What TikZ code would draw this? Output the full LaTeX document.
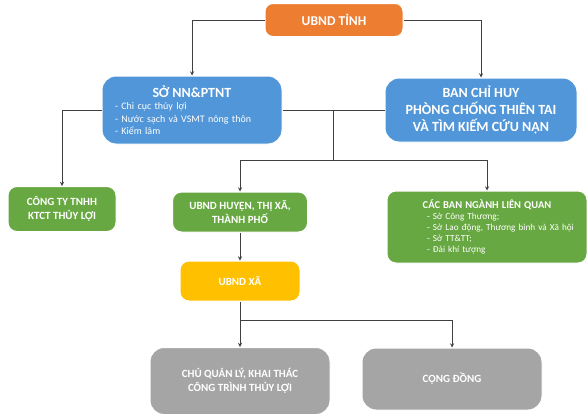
\documentclass[tikz,border=0pt]{standalone}
\usepackage{fontspec}
\setmainfont{Carlito}
\usepackage{tikz}
\definecolor{tinhorange}{HTML}{ED7D31}
\definecolor{soblue}{HTML}{5196D8}
\definecolor{cgreen}{HTML}{68A842}
\definecolor{xayellow}{HTML}{FFC000}
\definecolor{cdgray}{HTML}{A5A5A5}
\definecolor{linegray}{HTML}{404040}

\begin{document}
\begin{tikzpicture}[x=1pt,y=-1pt,>=stealth,
  box/.style={rectangle,rounded corners=9pt,draw=white,line width=1pt,text=white,font=\bfseries\fontsize{11}{14}\selectfont,align=center,inner sep=2pt},
  link/.style={draw=linegray,line width=0.9pt}]
\useasboundingbox (0,0) rectangle (587,418);
\node[box,fill=tinhorange,minimum width=138pt,minimum height=33pt,rounded corners=8pt,font=\bfseries\fontsize{13.5}{15}\selectfont] (tinh) at (334,20) {UBND TỈNH};
\node[box,fill=soblue,minimum width=180pt,minimum height=68pt,rounded corners=14pt,text width=154pt,align=left,font=\fontsize{10}{12.5}\selectfont] (so) at (192,110) {\makebox[\linewidth]{\bfseries\fontsize{14}{16}\selectfont SỞ NN\&PTNT}\\- Chi cục thủy lợi\\- Nước sạch và VSMT nông thôn\\- Kiểm lâm};
\node[box,fill=soblue,minimum width=192pt,minimum height=64pt,rounded corners=14pt,font=\bfseries\fontsize{14}{17}\selectfont] (ban) at (481,110) {BAN CHỈ HUY\\PHÒNG CHỐNG THIÊN TAI\\VÀ TÌM KIẾM CỨU NẠN};
\node[box,fill=cgreen,minimum width=108pt,minimum height=45pt] (congty) at (62,209) {CÔNG TY TNHH\\KTCT THỦY LỢI};
\node[box,fill=cgreen,minimum width=135pt,minimum height=40pt] (huyen) at (240,212) {UBND HUYỆN, THỊ XÃ,\\THÀNH PHỐ};
\node[box,fill=cgreen,minimum width=200pt,minimum height=72pt,text width=180pt,align=left,font=\fontsize{9.2}{11}\selectfont] (cacban) at (487,227) {\makebox[\linewidth]{\bfseries\fontsize{10.5}{13}\selectfont CÁC BAN NGÀNH LIÊN QUAN}\\\hspace*{30pt}- Sở Công Thương;\\\hspace*{30pt}- Sở Lao động, Thương binh và Xã hội\\\hspace*{30pt}- Sở TT\&TT;\\\hspace*{30pt}- Đài khí tượng};
\node[box,fill=xayellow,minimum width=120pt,minimum height=40pt] (xa) at (240,281) {UBND XÃ};
\node[box,fill=cdgray,minimum width=180pt,minimum height=67pt,rounded corners=14pt] (chu) at (240,381) {CHỦ QUẢN LÝ, KHAI THÁC\\CÔNG TRÌNH THỦY LỢI};
\node[box,fill=cdgray,minimum width=180pt,minimum height=62pt,rounded corners=14pt] (congdong) at (452,379) {CỘNG ĐỒNG};
\coordinate (j1) at (333,110);
\coordinate (j2) at (333,160);
\coordinate (j3) at (240,320);
\draw[link,->] (tinh.west) -| (so.north);
\draw[link,->] (tinh.east) -| (ban.north);
\draw[link,->] (so.west) -| (congty.north);
\draw[link] (so.east) -- (ban.west);
\draw[link] (j1) -- (j2);
\draw[link,->] (j2) -| (huyen.north);
\draw[link,->] (j2) -| (cacban.north);
\draw[link,->] (huyen.south) -- (xa.north);
\draw[link,->] (xa.south) -- (chu.north);
\draw[link,->] (j3) -| (congdong.north);
\end{tikzpicture}
\end{document}
